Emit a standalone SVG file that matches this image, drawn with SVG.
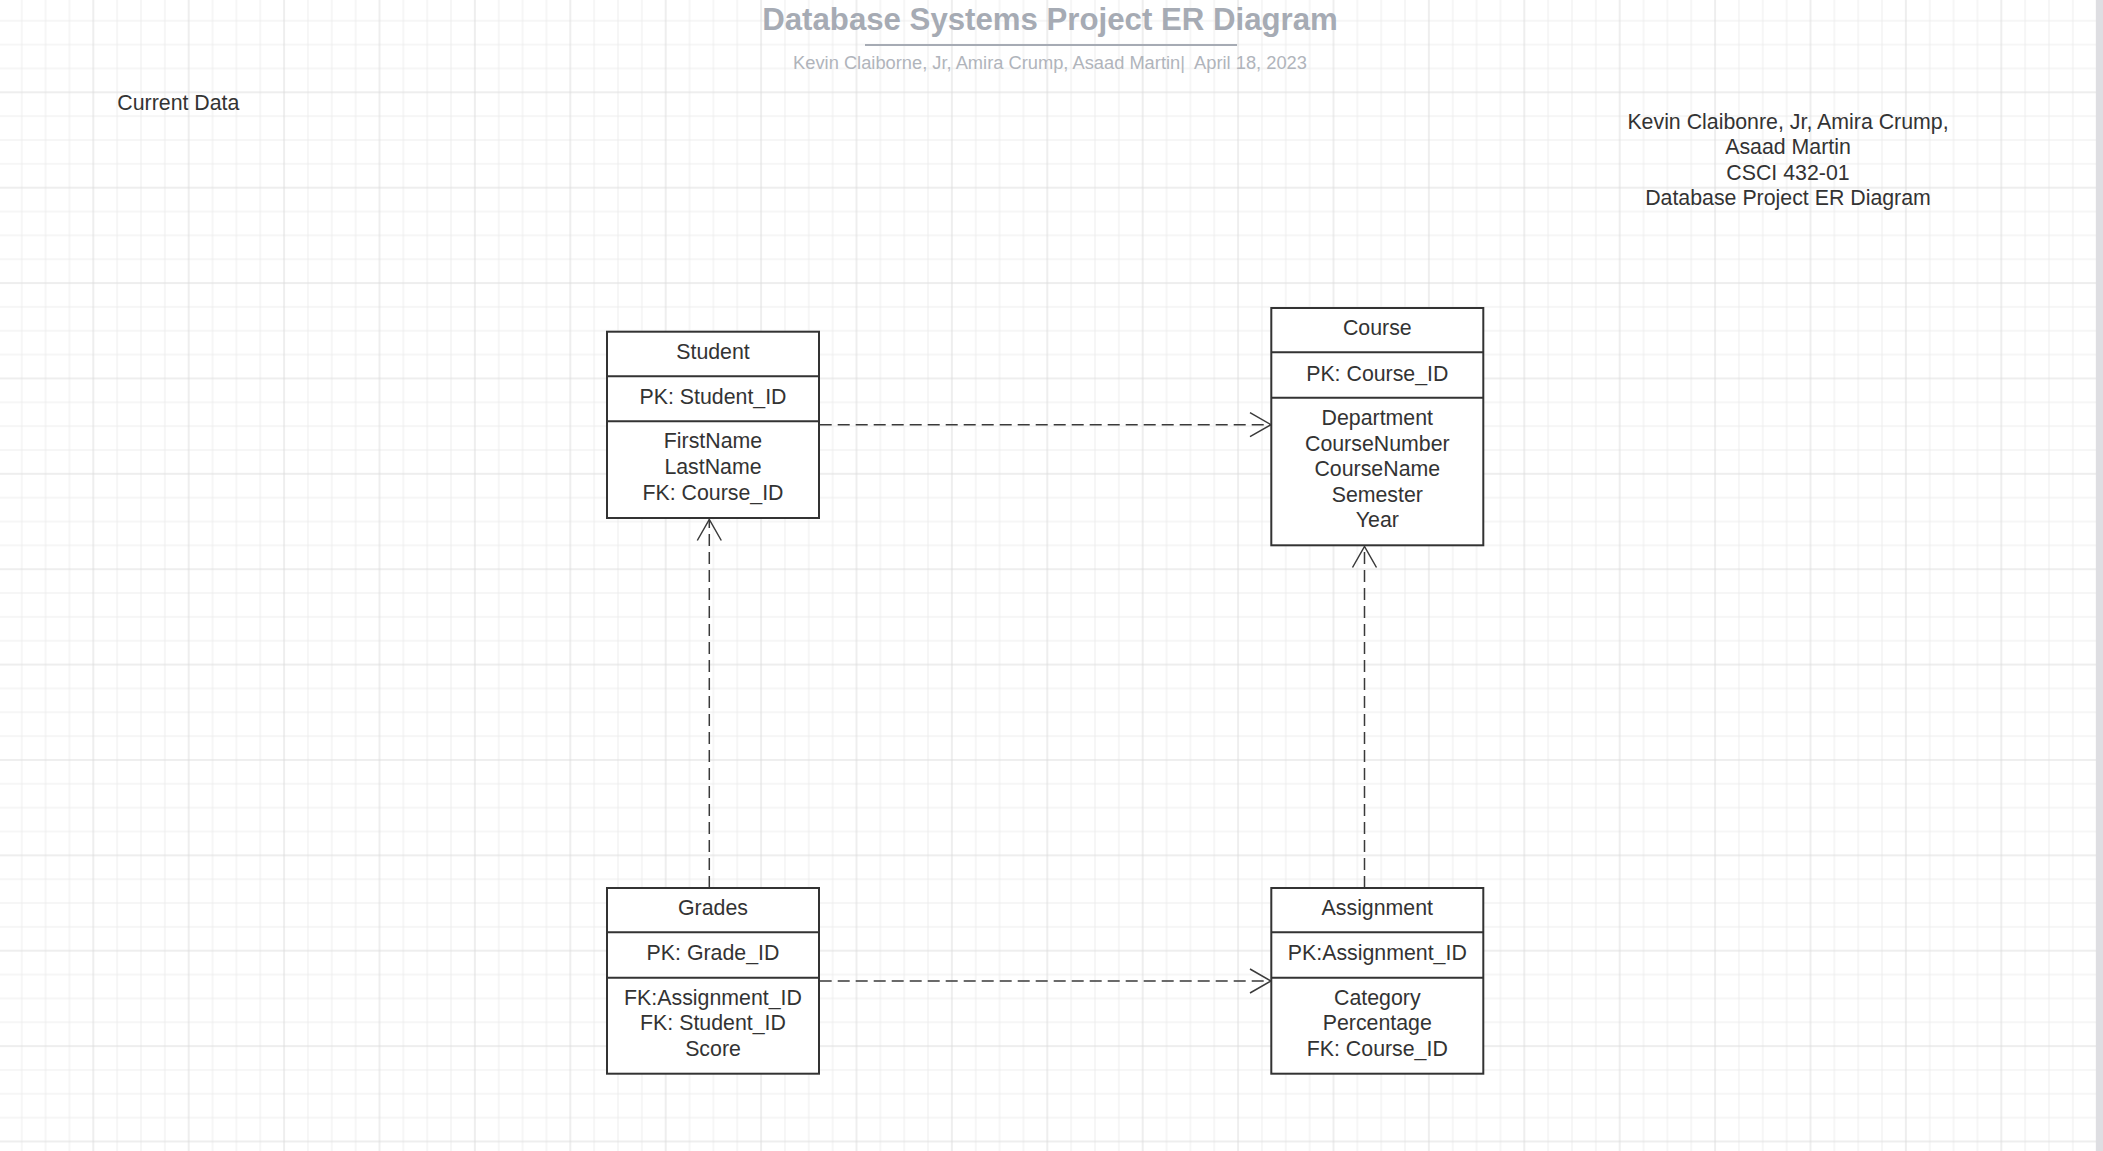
<svg xmlns="http://www.w3.org/2000/svg" width="2103" height="1151" viewBox="0 0 2103 1151">
<style>
text{font-family:"Liberation Sans",Arial,Helvetica,sans-serif;}
.t{font-size:21.33px;fill:#333333;text-anchor:middle;}
.lbl{font-size:21.33px;fill:#333333;}
.box{fill:#ffffff;stroke:#333333;stroke-width:2;}
.div{stroke:#333333;stroke-width:2;fill:none;}
.dash{stroke:#3a3a3a;stroke-width:1.5;fill:none;stroke-dasharray:12 6;}
.minor{stroke:#ededed;stroke-width:1;}
.major{stroke:#dddddd;stroke-width:1;}
</style>
<defs>
<pattern id="grid" patternUnits="userSpaceOnUse" x="-14.03" y="-15.0" width="95.4" height="95.38">
<path class="minor" d="M35.775,0V95.38M59.625,0V95.38M83.475,0V95.38M0,35.76H95.4M0,59.61H95.4M0,83.45H95.4"/>
<path class="major" d="M11.925,0V95.38M0,11.92H95.4"/>
</pattern>
<marker id="arr" markerUnits="userSpaceOnUse" viewBox="-25 -15 30 30" markerWidth="30" markerHeight="30" refX="0" refY="0" orient="auto" overflow="visible">
<path d="M-21,-12L0,0L-21,12" fill="none" stroke="#3a3a3a" stroke-width="1.5"/>
</marker>
</defs>
<rect x="0" y="0" width="2103" height="1151" fill="#ffffff"/>
<rect x="0" y="0" width="2096" height="1151" fill="url(#grid)"/>
<rect x="2096" y="0" width="7" height="1151" fill="#dedee2"/>

<g id="header">
<text x="1050" y="30" style="font-size:31.2px;font-weight:bold;fill:#a6abb4;text-anchor:middle">Database Systems Project ER Diagram</text>
<line x1="865" y1="45" x2="1237" y2="45" stroke="#a6abb4" stroke-width="2"/>
<text x="1050" y="68.5" xml:space="preserve" style="font-size:18.3px;fill:#b0b4bb;text-anchor:middle;white-space:pre">Kevin Claiborne, Jr, Amira Crump, Asaad Martin|  April 18, 2023</text>
</g>

<g id="current-data">
<text class="lbl" x="117.3" y="110">Current Data</text>
</g>

<g id="info-block">
<text class="t" x="1788" y="128.5">Kevin Claibonre, Jr, Amira Crump,</text>
<text class="t" x="1788" y="154.1">Asaad Martin</text>
<text class="t" x="1788" y="179.7">CSCI 432-01</text>
<text class="t" x="1788" y="205.3">Database Project ER Diagram</text>
</g>

<g id="connectors">
<path class="dash" d="M819.7,424.7H1271" marker-end="url(#arr)"/>
<path class="dash" d="M819.7,981H1271" marker-end="url(#arr)"/>
<path class="dash" d="M709.3,888V519.5" marker-end="url(#arr)"/>
<path class="dash" d="M1364.5,888V546.5" marker-end="url(#arr)"/>
</g>

<g id="student">
<rect class="box" x="607" y="331.7" width="212" height="186.3"/>
<path class="div" d="M607,376.3H819M607,421.3H819"/>
<text class="t" x="713" y="358.7">Student</text>
<text class="t" x="713" y="404.3">PK: Student_ID</text>
<text class="t" x="713" y="448.3">FirstName</text>
<text class="t" x="713" y="473.9">LastName</text>
<text class="t" x="713" y="499.5">FK: Course_ID</text>
</g>

<g id="course">
<rect class="box" x="1271.3" y="308" width="212" height="237.3"/>
<path class="div" d="M1271.3,352.3H1483.3M1271.3,397.7H1483.3"/>
<text class="t" x="1377.3" y="335">Course</text>
<text class="t" x="1377.3" y="380.5">PK: Course_ID</text>
<text class="t" x="1377.3" y="425">Department</text>
<text class="t" x="1377.3" y="450.6">CourseNumber</text>
<text class="t" x="1377.3" y="476.2">CourseName</text>
<text class="t" x="1377.3" y="501.8">Semester</text>
<text class="t" x="1377.3" y="527.4">Year</text>
</g>

<g id="grades">
<rect class="box" x="607" y="888" width="212" height="185.7"/>
<path class="div" d="M607,932.3H819M607,977.7H819"/>
<text class="t" x="713" y="915">Grades</text>
<text class="t" x="713" y="960.3">PK: Grade_ID</text>
<text class="t" x="713" y="1004.7">FK:Assignment_ID</text>
<text class="t" x="713" y="1030.3">FK: Student_ID</text>
<text class="t" x="713" y="1055.9">Score</text>
</g>

<g id="assignment">
<rect class="box" x="1271.3" y="888" width="212" height="185.7"/>
<path class="div" d="M1271.3,932.3H1483.3M1271.3,977.7H1483.3"/>
<text class="t" x="1377.3" y="915">Assignment</text>
<text class="t" x="1377.3" y="960.3">PK:Assignment_ID</text>
<text class="t" x="1377.3" y="1004.7">Category</text>
<text class="t" x="1377.3" y="1030.3">Percentage</text>
<text class="t" x="1377.3" y="1055.9">FK: Course_ID</text>
</g>
</svg>
